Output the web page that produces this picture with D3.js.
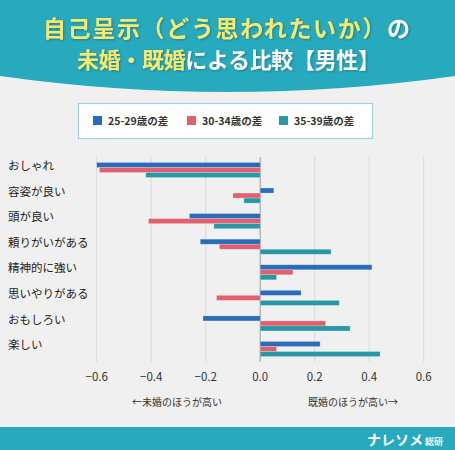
<!DOCTYPE html>
<html>
<head>
  <meta charset="utf-8">
  <script src="https://d3js.org/d3.v7.min.js"></script>
  <style>
    body { margin: 0; background: #f0f0f0; }
    text { font-family: "Noto Sans CJK JP", "Noto Sans", sans-serif; }
  </style>
</head>
<body>
  <svg id="chart" width="455" height="450"></svg>
  <script>
    // data
    const categories = ["おしゃれ", "容姿が良い", "頭が良い", "頼りがいがある", "精神的に強い", "思いやりがある", "おもしろい", "楽しい"];
    const seriesNames = ["25-29歳の差", "30-34歳の差", "35-39歳の差"];
    const diff2529 = [-0.60, 0.05, -0.26, -0.22, 0.41, 0.15, -0.21, 0.22];
    const diff3034 = [-0.59, -0.10, -0.41, -0.15, 0.12, -0.16, 0.24, 0.06];
    const diff3539 = [-0.42, -0.06, -0.17, 0.26, 0.06, 0.29, 0.33, 0.44];
    const xTicks = [-0.6, -0.4, -0.2, 0, 0.2, 0.4, 0.6];
    const colors = ["#2b6cb9", "#e0606f", "#2998a6"];

    const series = [diff2529, diff3034, diff3539];
    const rows = categories.map((c, i) => ({ cat: c, values: series.map((s, j) => ({ key: seriesNames[j], value: s[i] })) }));

    const svg = d3.select("#chart");

    // background
    svg.append("rect").attr("width", 455).attr("height", 450).attr("fill", "#f0f0f0");

    // header with curved bottom
    svg.append("path")
      .attr("d", "M0,0 H455 V76 Q227.5,108 0,76 Z")
      .attr("fill", "#27aabd");

    const title = svg.append("g").attr("font-weight", "bold")
      .style("filter", "drop-shadow(1px 1px 1px rgba(0,0,0,0.25))");
    const t1 = title.append("text").attr("x", 43).attr("y", 37).attr("font-size", 23)
      .attr("textLength", 367).attr("lengthAdjust", "spacing");
    t1.append("tspan").attr("fill", "#f6ea6e").text("自己呈示（どう思われたいか）");
    t1.append("tspan").attr("fill", "#fff").text("の");
    const t2 = title.append("text").attr("x", 77).attr("y", 68).attr("font-size", 22)
      .attr("textLength", 303).attr("lengthAdjust", "spacing");
    t2.append("tspan").attr("fill", "#f6ea6e").text("未婚・既婚");
    t2.append("tspan").attr("fill", "#fff").text("による比較【男性】");

    // legend
    const legend = svg.append("g");
    legend.append("rect")
      .attr("x", 78.5).attr("y", 103.5).attr("width", 294).attr("height", 35)
      .attr("fill", "#fff").attr("stroke", "#9fd3db").attr("stroke-width", 1.2);
    const legendX = [93, 187, 279];
    seriesNames.forEach((name, i) => {
      legend.append("rect")
        .attr("x", legendX[i]).attr("y", 116).attr("width", 9).attr("height", 9)
        .attr("fill", colors[i]);
      legend.append("text")
        .attr("x", legendX[i] + 15).attr("y", 124.5)
        .attr("font-size", 10.5).attr("font-weight", "bold").attr("fill", "#333")
        .text(name);
    });

    // chart
    const x = d3.scaleLinear().domain([-0.6, 0.6]).range([96.7, 423.7]);
    const y = d3.scaleBand().domain(categories).range([157.2, 361.8]).paddingInner(0.41).paddingOuter(0.205);
    const y1 = d3.scaleBand().domain(seriesNames).range([0, y.bandwidth()]);

    const plot = svg.append("g");

    plot.selectAll(".grid").data(xTicks)
      .join("line")
      .attr("class", "grid")
      .attr("x1", d => x(d)).attr("x2", d => x(d))
      .attr("y1", 157).attr("y2", 362)
      .attr("stroke", d => d === 0 ? "#9a9a9a" : "#dadada")
      .attr("stroke-width", 1);

    const groups = plot.selectAll(".group").data(rows)
      .join("g")
      .attr("class", "group")
      .attr("transform", d => `translate(0,${y(d.cat)})`);

    groups.selectAll("rect").data(d => d.values)
      .join("rect")
      .attr("x", d => x(Math.min(0, d.value)))
      .attr("width", d => Math.abs(x(d.value) - x(0)))
      .attr("y", d => y1(d.key))
      .attr("height", y1.bandwidth())
      .attr("fill", (d, i) => colors[i])
      .attr("stroke", "rgba(255,255,255,0.35)")
      .attr("stroke-width", 0.6);

    // category labels
    svg.append("g").selectAll("text").data(categories)
      .join("text")
      .attr("x", 8)
      .attr("y", d => y(d) + y.bandwidth() / 2 - 3)
      .attr("dominant-baseline", "middle")
      .attr("font-size", 11.5).attr("fill", "#222")
      .text(d => d);

    // x axis tick labels
    svg.append("g").selectAll("text").data(xTicks)
      .join("text")
      .attr("x", d => x(d))
      .attr("y", 381)
      .attr("text-anchor", "middle")
      .attr("font-size", 11.5).attr("fill", "#333")
      .text(d => d3.format(".1f")(d));

    svg.append("text").attr("x", 177).attr("y", 406).attr("text-anchor", "middle")
      .attr("font-size", 10).attr("fill", "#333").text("←未婚のほうが高い");
    svg.append("text").attr("x", 353).attr("y", 406).attr("text-anchor", "middle")
      .attr("font-size", 10).attr("fill", "#333").text("既婚のほうが高い→");

    // footer
    svg.append("rect").attr("x", 0).attr("y", 427).attr("width", 455).attr("height", 23).attr("fill", "#27aabd");
    const foot = svg.append("text").attr("x", 443).attr("y", 445).attr("text-anchor", "end")
      .attr("fill", "#fff").attr("font-weight", "bold");
    foot.append("tspan").attr("font-size", 14).text("ナレソメ");
    foot.append("tspan").attr("font-size", 9).attr("dx", 2).text("総研");
  </script>
</body>
</html>
